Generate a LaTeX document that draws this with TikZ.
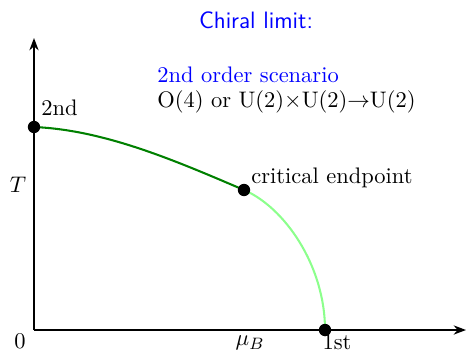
\documentclass[tikz,border=0pt]{standalone}
\usetikzlibrary{arrows.meta}
\begin{document}
\begin{tikzpicture}[x=0.485pt,y=-0.485pt,
  axis/.style={line width=0.7pt,-{Stealth[length=6pt,width=4.5pt]}},
  dot/.style={circle,fill=black,inner sep=0pt,minimum size=6pt},
  lbl/.style={inner sep=0pt,font=\fontsize{10.9}{13}\selectfont},
  crossover/.style={line width=1pt,green!50!black},
  firstorder/.style={line width=1pt,green!45}]
\useasboundingbox (0,0) rectangle (466,353);
\coordinate (O) at (34,330);
\coordinate (ytop) at (34,38);
\coordinate (xend) at (466,330);
\draw[axis] (O) -- (ytop);
\draw[axis] (O) -- (xend);
\coordinate (second) at (34,127);
\coordinate (cep) at (244,190);
\coordinate (first) at (325,330);
\draw[crossover] (second) .. controls (104,130) and (174,160) .. (cep);
\draw[firstorder] (cep) .. controls (284,207) and (325,265) .. (first);
\node[dot] (dsecond) at (second) {};
\node[dot] (dcep) at (cep) {};
\node[dot] (dfirst) at (first) {};
\node[lbl,anchor=west] (l2) at (41,108) {2nd};
\node[lbl,anchor=west] (lc) at (251,178) {critical endpoint};
\node[lbl] (l1) at (337,342) {1st};
\node[lbl] (mu) at (250,343) {$\mu_B$};
\node[lbl] (T) at (18,185) {$T$};
\node[lbl] (zero) at (20,341) {0};
\node[inner sep=0pt,text=blue,font=\sffamily\fontsize{11.5}{13}\selectfont] (title) at (256,20) {Chiral limit:};
\node[lbl,anchor=west,text=blue] (scen) at (157,75) {2nd order scenario};
\node[lbl,anchor=west] (sym) at (157,102) {O(4) or U(2)$\times$U(2)$\rightarrow$U(2)};
\end{tikzpicture}
\end{document}
